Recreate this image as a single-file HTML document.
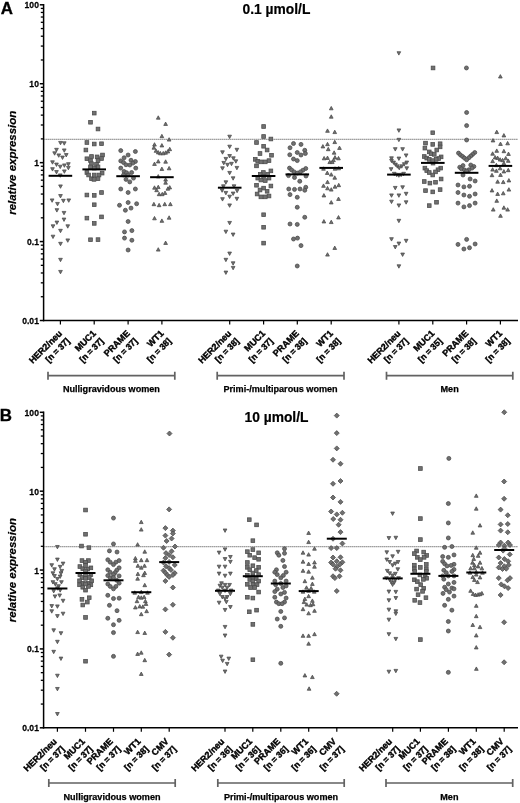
<!DOCTYPE html>
<html><head><meta charset="utf-8"><title>Figure</title>
<style>
html,body{margin:0;padding:0;background:#fff;}
svg{display:block;font-family:"Liberation Sans",sans-serif;will-change:transform;}
</style></head><body>
<svg width="520" height="803" viewBox="0 0 520 803">
<rect width="520" height="803" fill="#fff"/>
<g stroke="#000" stroke-width="1.5" fill="none">
<path d="M43.6 4.05V321.25"/>
<path d="M42.9 320.50H518"/>
<path d="M39.8 4.80H43.6"/>
<path d="M39.8 83.72H43.6"/>
<path d="M39.8 162.65H43.6"/>
<path d="M39.8 241.57H43.6"/>
<path d="M39.8 320.50H43.6"/>
</g>
<g stroke="#000" stroke-width="1.3" fill="none">
<path d="M40.8 59.97H43.6"/>
<path d="M40.8 46.07H43.6"/>
<path d="M40.8 36.21H43.6"/>
<path d="M40.8 28.56H43.6"/>
<path d="M40.8 22.31H43.6"/>
<path d="M40.8 17.03H43.6"/>
<path d="M40.8 12.45H43.6"/>
<path d="M40.8 8.41H43.6"/>
<path d="M40.8 138.89H43.6"/>
<path d="M40.8 124.99H43.6"/>
<path d="M40.8 115.13H43.6"/>
<path d="M40.8 107.48H43.6"/>
<path d="M40.8 101.23H43.6"/>
<path d="M40.8 95.95H43.6"/>
<path d="M40.8 91.37H43.6"/>
<path d="M40.8 87.34H43.6"/>
<path d="M40.8 217.82H43.6"/>
<path d="M40.8 203.92H43.6"/>
<path d="M40.8 194.06H43.6"/>
<path d="M40.8 186.41H43.6"/>
<path d="M40.8 180.16H43.6"/>
<path d="M40.8 174.88H43.6"/>
<path d="M40.8 170.30H43.6"/>
<path d="M40.8 166.26H43.6"/>
<path d="M40.8 296.74H43.6"/>
<path d="M40.8 282.84H43.6"/>
<path d="M40.8 272.98H43.6"/>
<path d="M40.8 265.33H43.6"/>
<path d="M40.8 259.08H43.6"/>
<path d="M40.8 253.80H43.6"/>
<path d="M40.8 249.22H43.6"/>
<path d="M40.8 245.19H43.6"/>
</g>
<g stroke="#000" stroke-width="1.2" fill="none">
<path d="M60.4 320.50v4"/>
<path d="M94.2 320.50v4"/>
<path d="M128.1 320.50v4"/>
<path d="M161.9 320.50v4"/>
<path d="M229.7 320.50v4"/>
<path d="M263.6 320.50v4"/>
<path d="M297.3 320.50v4"/>
<path d="M331.2 320.50v4"/>
<path d="M398.9 320.50v4"/>
<path d="M432.8 320.50v4"/>
<path d="M466.6 320.50v4"/>
<path d="M500.4 320.50v4"/>
</g>
<g font-size="9.8" font-weight="bold" text-anchor="end" fill="#000" stroke="#000" stroke-width="0.25">
<text transform="translate(38.9 8.25) scale(0.875 1)">100</text>
<text transform="translate(38.9 87.17) scale(0.875 1)">10</text>
<text transform="translate(38.9 166.10) scale(0.875 1)">1</text>
<text transform="translate(38.9 245.02) scale(0.875 1)">0.1</text>
<text transform="translate(38.9 323.95) scale(0.875 1)">0.01</text>
</g>
<path d="M44.2 139.29H518" stroke="#686868" stroke-width="1" stroke-dasharray="1.3 0.7" fill="none"/>
<g fill="#707070" stroke="#4a4a4a" stroke-width="0.75" stroke-linejoin="miter">
<path d="M58.65 141.42H62.35L60.50 144.82Z"/>
<path d="M62.40 141.80H66.10L64.25 145.20Z"/>
<path d="M54.65 148.30H58.35L56.50 151.70Z"/>
<path d="M62.40 148.92H66.10L64.25 152.32Z"/>
<path d="M52.77 151.80H56.47L54.62 155.20Z"/>
<path d="M56.90 153.92H60.60L58.75 157.32Z"/>
<path d="M64.40 153.55H68.10L66.25 156.95Z"/>
<path d="M60.65 156.05H64.35L62.50 159.45Z"/>
<path d="M50.65 160.80H54.35L52.50 164.20Z"/>
<path d="M54.65 163.05H58.35L56.50 166.45Z"/>
<path d="M66.53 162.68H70.23L68.38 166.08Z"/>
<path d="M58.40 165.18H62.10L60.25 168.58Z"/>
<path d="M62.53 163.92H66.23L64.38 167.32Z"/>
<path d="M66.53 166.42H70.23L68.38 169.82Z"/>
<path d="M50.65 167.68H54.35L52.50 171.08Z"/>
<path d="M54.65 170.55H58.35L56.50 173.95Z"/>
<path d="M62.53 169.92H66.23L64.38 173.32Z"/>
<path d="M58.40 173.92H62.10L60.25 177.32Z"/>
<path d="M58.65 184.92H62.35L60.50 188.32Z"/>
<path d="M58.65 194.55H62.35L60.50 197.95Z"/>
<path d="M50.27 198.92H53.97L52.12 202.32Z"/>
<path d="M61.53 199.30H65.23L63.38 202.70Z"/>
<path d="M66.90 198.92H70.60L68.75 202.32Z"/>
<path d="M55.65 202.42H59.35L57.50 205.82Z"/>
<path d="M55.03 208.68H58.73L56.88 212.08Z"/>
<path d="M62.15 211.42H65.85L64.00 214.82Z"/>
<path d="M62.15 218.05H65.85L64.00 221.45Z"/>
<path d="M55.03 221.05H58.73L56.88 224.45Z"/>
<path d="M51.15 224.80H54.85L53.00 228.20Z"/>
<path d="M65.90 224.80H69.60L67.75 228.20Z"/>
<path d="M58.65 229.30H62.35L60.50 232.70Z"/>
<path d="M51.15 235.18H54.85L53.00 238.58Z"/>
<path d="M65.90 238.92H69.60L67.75 242.32Z"/>
<path d="M58.65 242.30H62.35L60.50 245.70Z"/>
<path d="M58.65 258.30H62.35L60.50 261.70Z"/>
<path d="M58.65 270.42H62.35L60.50 273.82Z"/>
<rect x="92.40" y="111.27" width="3.7" height="3.7"/>
<rect x="88.65" y="120.40" width="3.7" height="3.7"/>
<rect x="96.15" y="127.15" width="3.7" height="3.7"/>
<rect x="85.03" y="140.65" width="3.7" height="3.7"/>
<rect x="92.40" y="142.15" width="3.7" height="3.7"/>
<rect x="99.65" y="141.90" width="3.7" height="3.7"/>
<rect x="84.03" y="148.15" width="3.7" height="3.7"/>
<rect x="89.65" y="154.65" width="3.7" height="3.7"/>
<rect x="100.65" y="153.15" width="3.7" height="3.7"/>
<rect x="95.27" y="155.03" width="3.7" height="3.7"/>
<rect x="85.03" y="156.90" width="3.7" height="3.7"/>
<rect x="99.65" y="156.65" width="3.7" height="3.7"/>
<rect x="88.65" y="158.77" width="3.7" height="3.7"/>
<rect x="96.15" y="158.77" width="3.7" height="3.7"/>
<rect x="89.65" y="161.90" width="3.7" height="3.7"/>
<rect x="94.65" y="162.53" width="3.7" height="3.7"/>
<rect x="88.65" y="165.03" width="3.7" height="3.7"/>
<rect x="96.15" y="165.03" width="3.7" height="3.7"/>
<rect x="92.40" y="166.27" width="3.7" height="3.7"/>
<rect x="85.03" y="170.65" width="3.7" height="3.7"/>
<rect x="100.27" y="171.27" width="3.7" height="3.7"/>
<rect x="86.77" y="173.15" width="3.7" height="3.7"/>
<rect x="97.15" y="173.15" width="3.7" height="3.7"/>
<rect x="89.65" y="176.90" width="3.7" height="3.7"/>
<rect x="96.15" y="176.90" width="3.7" height="3.7"/>
<rect x="92.15" y="177.53" width="3.7" height="3.7"/>
<rect x="92.40" y="173.15" width="3.7" height="3.7"/>
<rect x="85.03" y="193.15" width="3.7" height="3.7"/>
<rect x="92.40" y="193.53" width="3.7" height="3.7"/>
<rect x="99.65" y="190.65" width="3.7" height="3.7"/>
<rect x="92.40" y="202.90" width="3.7" height="3.7"/>
<rect x="85.03" y="216.27" width="3.7" height="3.7"/>
<rect x="99.65" y="215.03" width="3.7" height="3.7"/>
<rect x="92.40" y="221.53" width="3.7" height="3.7"/>
<rect x="88.65" y="237.90" width="3.7" height="3.7"/>
<rect x="96.15" y="237.77" width="3.7" height="3.7"/>
<circle cx="120.75" cy="150.62" r="2.0"/>
<circle cx="135.38" cy="151.5" r="2.0"/>
<circle cx="128.12" cy="155.0" r="2.0"/>
<circle cx="124.12" cy="157.75" r="2.0"/>
<circle cx="120.75" cy="160.88" r="2.0"/>
<circle cx="131.0" cy="160.25" r="2.0"/>
<circle cx="135.38" cy="161.5" r="2.0"/>
<circle cx="123.5" cy="162.5" r="2.0"/>
<circle cx="132.88" cy="163.12" r="2.0"/>
<circle cx="126.0" cy="164.75" r="2.0"/>
<circle cx="129.75" cy="165.0" r="2.0"/>
<circle cx="120.75" cy="168.12" r="2.0"/>
<circle cx="135.75" cy="168.12" r="2.0"/>
<circle cx="124.12" cy="171.5" r="2.0"/>
<circle cx="126.62" cy="172.75" r="2.0"/>
<circle cx="131.62" cy="172.5" r="2.0"/>
<circle cx="123.5" cy="175.0" r="2.0"/>
<circle cx="133.5" cy="178.12" r="2.0"/>
<circle cx="126.0" cy="179.38" r="2.0"/>
<circle cx="129.75" cy="181.88" r="2.0"/>
<circle cx="120.75" cy="189.0" r="2.0"/>
<circle cx="135.38" cy="189.0" r="2.0"/>
<circle cx="128.12" cy="192.5" r="2.0"/>
<circle cx="128.12" cy="175.0" r="2.0"/>
<circle cx="128.12" cy="202.5" r="2.0"/>
<circle cx="119.5" cy="205.25" r="2.0"/>
<circle cx="136.62" cy="203.75" r="2.0"/>
<circle cx="131.0" cy="208.12" r="2.0"/>
<circle cx="125.38" cy="210.25" r="2.0"/>
<circle cx="128.12" cy="221.5" r="2.0"/>
<circle cx="124.5" cy="231.88" r="2.0"/>
<circle cx="131.88" cy="230.62" r="2.0"/>
<circle cx="124.5" cy="238.12" r="2.0"/>
<circle cx="131.88" cy="240.25" r="2.0"/>
<circle cx="128.12" cy="250.0" r="2.0"/>
<path d="M156.40 119.20H160.10L158.25 115.80Z"/>
<path d="M163.77 125.45H167.47L165.62 122.05Z"/>
<path d="M160.03 137.70H163.73L161.88 134.30Z"/>
<path d="M167.27 141.08H170.97L169.12 137.68Z"/>
<path d="M152.65 146.08H156.35L154.50 142.68Z"/>
<path d="M160.03 146.95H163.73L161.88 143.55Z"/>
<path d="M152.03 149.20H155.73L153.88 145.80Z"/>
<path d="M167.90 150.70H171.60L169.75 147.30Z"/>
<path d="M154.15 152.32H157.85L156.00 148.92Z"/>
<path d="M166.03 152.95H169.73L167.88 149.55Z"/>
<path d="M156.40 153.95H160.10L158.25 150.55Z"/>
<path d="M163.77 154.20H167.47L165.62 150.80Z"/>
<path d="M158.53 154.82H162.23L160.38 151.42Z"/>
<path d="M161.40 154.82H165.10L163.25 151.42Z"/>
<path d="M156.40 162.95H160.10L158.25 159.55Z"/>
<path d="M163.77 163.20H167.47L165.62 159.80Z"/>
<path d="M152.65 165.45H156.35L154.50 162.05Z"/>
<path d="M160.03 170.45H163.73L161.88 167.05Z"/>
<path d="M167.27 169.82H170.97L169.12 166.42Z"/>
<path d="M156.40 177.95H160.10L158.25 174.55Z"/>
<path d="M163.77 181.08H167.47L165.62 177.68Z"/>
<path d="M163.77 184.20H167.47L165.62 180.80Z"/>
<path d="M152.65 189.20H156.35L154.50 185.80Z"/>
<path d="M156.40 188.58H160.10L158.25 185.18Z"/>
<path d="M167.90 188.95H171.60L169.75 185.55Z"/>
<path d="M166.03 190.20H169.73L167.88 186.80Z"/>
<path d="M154.77 191.70H158.47L156.62 188.30Z"/>
<path d="M163.15 194.45H166.85L165.00 191.05Z"/>
<path d="M157.27 195.70H160.97L159.12 192.30Z"/>
<path d="M160.40 195.70H164.10L162.25 192.30Z"/>
<path d="M152.03 205.70H155.73L153.88 202.30Z"/>
<path d="M157.27 206.70H160.97L159.12 203.30Z"/>
<path d="M162.90 205.70H166.60L164.75 202.30Z"/>
<path d="M168.53 205.70H172.23L170.38 202.30Z"/>
<path d="M152.65 219.82H156.35L154.50 216.42Z"/>
<path d="M167.27 219.20H170.97L169.12 215.80Z"/>
<path d="M160.03 222.32H163.73L161.88 218.92Z"/>
<path d="M163.77 244.45H167.47L165.62 241.05Z"/>
<path d="M156.40 251.08H160.10L158.25 247.68Z"/>
<path d="M227.77 135.18H231.47L229.62 138.58Z"/>
<path d="M227.77 145.18H231.47L229.62 148.58Z"/>
<path d="M235.03 148.30H238.73L236.88 151.70Z"/>
<path d="M220.65 150.80H224.35L222.50 154.20Z"/>
<path d="M227.77 154.55H231.47L229.62 157.95Z"/>
<path d="M224.03 157.42H227.73L225.88 160.82Z"/>
<path d="M231.53 156.80H235.23L233.38 160.20Z"/>
<path d="M234.03 159.80H237.73L235.88 163.20Z"/>
<path d="M221.90 161.42H225.60L223.75 164.82Z"/>
<path d="M225.65 163.30H229.35L227.50 166.70Z"/>
<path d="M229.65 162.30H233.35L231.50 165.70Z"/>
<path d="M220.65 166.80H224.35L222.50 170.20Z"/>
<path d="M235.03 166.42H238.73L236.88 169.82Z"/>
<path d="M227.77 171.42H231.47L229.62 174.82Z"/>
<path d="M231.27 176.80H234.97L233.12 180.20Z"/>
<path d="M224.03 180.80H227.73L225.88 184.20Z"/>
<path d="M221.53 184.80H225.23L223.38 188.20Z"/>
<path d="M232.15 184.80H235.85L234.00 188.20Z"/>
<path d="M220.27 188.92H223.97L222.12 192.32Z"/>
<path d="M235.27 189.30H238.97L237.12 192.70Z"/>
<path d="M224.03 191.42H227.73L225.88 194.82Z"/>
<path d="M231.27 192.05H234.97L233.12 195.45Z"/>
<path d="M227.77 195.18H231.47L229.62 198.58Z"/>
<path d="M220.65 197.68H224.35L222.50 201.08Z"/>
<path d="M235.03 197.30H238.73L236.88 200.70Z"/>
<path d="M227.77 203.92H231.47L229.62 207.32Z"/>
<path d="M227.77 221.42H231.47L229.62 224.82Z"/>
<path d="M224.03 230.18H227.73L225.88 233.58Z"/>
<path d="M231.27 233.05H234.97L233.12 236.45Z"/>
<path d="M227.77 252.05H231.47L229.62 255.45Z"/>
<path d="M224.03 258.30H227.73L225.88 261.70Z"/>
<path d="M231.27 261.80H234.97L233.12 265.20Z"/>
<path d="M231.27 266.42H234.97L233.12 269.82Z"/>
<path d="M224.03 271.05H227.73L225.88 274.45Z"/>
<rect x="261.77" y="124.65" width="3.7" height="3.7"/>
<rect x="261.77" y="134.65" width="3.7" height="3.7"/>
<rect x="269.03" y="137.15" width="3.7" height="3.7"/>
<rect x="254.65" y="140.65" width="3.7" height="3.7"/>
<rect x="261.77" y="144.40" width="3.7" height="3.7"/>
<rect x="265.27" y="148.15" width="3.7" height="3.7"/>
<rect x="258.15" y="151.65" width="3.7" height="3.7"/>
<rect x="269.65" y="153.40" width="3.7" height="3.7"/>
<rect x="253.40" y="157.53" width="3.7" height="3.7"/>
<rect x="255.90" y="159.40" width="3.7" height="3.7"/>
<rect x="267.15" y="158.77" width="3.7" height="3.7"/>
<rect x="259.03" y="160.03" width="3.7" height="3.7"/>
<rect x="263.40" y="160.03" width="3.7" height="3.7"/>
<rect x="254.65" y="164.03" width="3.7" height="3.7"/>
<rect x="269.03" y="169.03" width="3.7" height="3.7"/>
<rect x="261.53" y="170.65" width="3.7" height="3.7"/>
<rect x="258.40" y="172.53" width="3.7" height="3.7"/>
<rect x="255.90" y="176.27" width="3.7" height="3.7"/>
<rect x="267.15" y="176.27" width="3.7" height="3.7"/>
<rect x="259.03" y="178.15" width="3.7" height="3.7"/>
<rect x="263.40" y="178.77" width="3.7" height="3.7"/>
<rect x="254.65" y="183.40" width="3.7" height="3.7"/>
<rect x="269.03" y="184.15" width="3.7" height="3.7"/>
<rect x="261.77" y="186.27" width="3.7" height="3.7"/>
<rect x="258.15" y="188.15" width="3.7" height="3.7"/>
<rect x="265.27" y="189.40" width="3.7" height="3.7"/>
<rect x="255.27" y="192.15" width="3.7" height="3.7"/>
<rect x="267.15" y="194.15" width="3.7" height="3.7"/>
<rect x="259.03" y="195.03" width="3.7" height="3.7"/>
<rect x="263.40" y="195.03" width="3.7" height="3.7"/>
<rect x="265.90" y="172.53" width="3.7" height="3.7"/>
<rect x="261.77" y="174.40" width="3.7" height="3.7"/>
<rect x="261.77" y="212.90" width="3.7" height="3.7"/>
<rect x="261.77" y="225.40" width="3.7" height="3.7"/>
<rect x="261.77" y="241.27" width="3.7" height="3.7"/>
<circle cx="293.5" cy="143.5" r="2.0"/>
<circle cx="301.0" cy="144.38" r="2.0"/>
<circle cx="290.0" cy="147.75" r="2.0"/>
<circle cx="304.75" cy="150.25" r="2.0"/>
<circle cx="297.25" cy="152.5" r="2.0"/>
<circle cx="305.38" cy="153.5" r="2.0"/>
<circle cx="289.75" cy="154.75" r="2.0"/>
<circle cx="301.0" cy="155.0" r="2.0"/>
<circle cx="293.5" cy="159.0" r="2.0"/>
<circle cx="297.25" cy="160.62" r="2.0"/>
<circle cx="289.5" cy="168.12" r="2.0"/>
<circle cx="305.75" cy="168.5" r="2.0"/>
<circle cx="291.62" cy="170.0" r="2.0"/>
<circle cx="302.88" cy="170.25" r="2.0"/>
<circle cx="294.12" cy="171.88" r="2.0"/>
<circle cx="300.38" cy="171.88" r="2.0"/>
<circle cx="297.25" cy="173.12" r="2.0"/>
<circle cx="288.5" cy="175.62" r="2.0"/>
<circle cx="306.0" cy="176.0" r="2.0"/>
<circle cx="294.5" cy="177.5" r="2.0"/>
<circle cx="299.75" cy="181.25" r="2.0"/>
<circle cx="305.75" cy="187.25" r="2.0"/>
<circle cx="288.75" cy="189.0" r="2.0"/>
<circle cx="294.5" cy="189.38" r="2.0"/>
<circle cx="300.0" cy="189.0" r="2.0"/>
<circle cx="304.75" cy="190.25" r="2.0"/>
<circle cx="290.0" cy="194.62" r="2.0"/>
<circle cx="297.25" cy="197.25" r="2.0"/>
<circle cx="297.25" cy="207.25" r="2.0"/>
<circle cx="304.75" cy="217.25" r="2.0"/>
<circle cx="290.0" cy="224.0" r="2.0"/>
<circle cx="297.25" cy="224.38" r="2.0"/>
<circle cx="293.5" cy="239.0" r="2.0"/>
<circle cx="297.5" cy="238.12" r="2.0"/>
<circle cx="301.0" cy="245.62" r="2.0"/>
<circle cx="297.25" cy="266.0" r="2.0"/>
<path d="M329.40 109.82H333.10L331.25 106.42Z"/>
<path d="M329.40 118.20H333.10L331.25 114.80Z"/>
<path d="M325.65 132.32H329.35L327.50 128.92Z"/>
<path d="M332.90 133.58H336.60L334.75 130.18Z"/>
<path d="M332.90 143.58H336.60L334.75 140.18Z"/>
<path d="M325.65 145.70H329.35L327.50 142.30Z"/>
<path d="M321.03 147.95H324.73L322.88 144.55Z"/>
<path d="M337.65 149.45H341.35L339.50 146.05Z"/>
<path d="M326.40 150.70H330.10L328.25 147.30Z"/>
<path d="M332.27 154.20H335.97L334.12 150.80Z"/>
<path d="M322.27 159.82H325.97L324.12 156.42Z"/>
<path d="M325.65 159.45H329.35L327.50 156.05Z"/>
<path d="M333.15 158.95H336.85L335.00 155.55Z"/>
<path d="M336.65 159.82H340.35L338.50 156.42Z"/>
<path d="M331.65 161.70H335.35L333.50 158.30Z"/>
<path d="M327.90 163.58H331.60L329.75 160.18Z"/>
<path d="M330.40 163.58H334.10L332.25 160.18Z"/>
<path d="M321.65 170.20H325.35L323.50 166.80Z"/>
<path d="M333.15 170.20H336.85L335.00 166.80Z"/>
<path d="M336.90 169.82H340.60L338.75 166.42Z"/>
<path d="M325.40 174.45H329.10L327.25 171.05Z"/>
<path d="M329.40 176.08H333.10L331.25 172.68Z"/>
<path d="M332.90 179.20H336.60L334.75 175.80Z"/>
<path d="M325.65 183.58H329.35L327.50 180.18Z"/>
<path d="M321.65 187.32H325.35L323.50 183.92Z"/>
<path d="M336.90 186.70H340.60L338.75 183.30Z"/>
<path d="M333.15 188.20H336.85L335.00 184.80Z"/>
<path d="M325.65 189.82H329.35L327.50 186.42Z"/>
<path d="M329.40 191.08H333.10L331.25 187.68Z"/>
<path d="M322.03 196.95H325.73L323.88 193.55Z"/>
<path d="M336.65 200.45H340.35L338.50 197.05Z"/>
<path d="M329.40 203.95H333.10L331.25 200.55Z"/>
<path d="M336.65 218.95H340.35L338.50 215.55Z"/>
<path d="M322.03 222.95H325.73L323.88 219.55Z"/>
<path d="M329.40 223.58H333.10L331.25 220.18Z"/>
<path d="M332.90 249.45H336.60L334.75 246.05Z"/>
<path d="M325.65 256.08H329.35L327.50 252.68Z"/>
<path d="M397.03 128.92H400.73L398.88 132.32Z"/>
<path d="M397.03 138.30H400.73L398.88 141.70Z"/>
<path d="M393.40 147.68H397.10L395.25 151.08Z"/>
<path d="M400.77 147.68H404.47L402.62 151.08Z"/>
<path d="M404.27 153.92H407.97L406.12 157.32Z"/>
<path d="M389.65 156.80H393.35L391.50 160.20Z"/>
<path d="M397.03 157.05H400.73L398.88 160.45Z"/>
<path d="M389.65 159.30H393.35L391.50 162.70Z"/>
<path d="M391.77 161.05H395.47L393.62 164.45Z"/>
<path d="M404.90 161.05H408.60L406.75 164.45Z"/>
<path d="M393.65 163.05H397.35L395.50 166.45Z"/>
<path d="M402.40 162.68H406.10L404.25 166.08Z"/>
<path d="M395.53 164.80H399.23L397.38 168.20Z"/>
<path d="M399.90 164.80H403.60L401.75 168.20Z"/>
<path d="M397.40 166.42H401.10L399.25 169.82Z"/>
<path d="M389.27 167.68H392.97L391.12 171.08Z"/>
<path d="M404.90 166.80H408.60L406.75 170.20Z"/>
<path d="M392.40 172.30H396.10L394.25 175.70Z"/>
<path d="M394.90 173.30H398.60L396.75 176.70Z"/>
<path d="M397.03 173.92H400.73L398.88 177.32Z"/>
<path d="M399.27 173.30H402.97L401.12 176.70Z"/>
<path d="M401.77 172.30H405.47L403.62 175.70Z"/>
<path d="M393.40 186.42H397.10L395.25 189.82Z"/>
<path d="M400.77 185.80H404.47L402.62 189.20Z"/>
<path d="M404.27 192.30H407.97L406.12 195.70Z"/>
<path d="M389.65 193.92H393.35L391.50 197.32Z"/>
<path d="M397.03 193.92H400.73L398.88 197.32Z"/>
<path d="M389.65 200.18H393.35L391.50 203.58Z"/>
<path d="M404.27 200.80H407.97L406.12 204.20Z"/>
<path d="M397.03 203.92H400.73L398.88 207.32Z"/>
<path d="M397.03 219.30H400.73L398.88 222.70Z"/>
<path d="M389.65 237.68H393.35L391.50 241.08Z"/>
<path d="M404.27 239.30H407.97L406.12 242.70Z"/>
<path d="M397.03 242.05H400.73L398.88 245.45Z"/>
<path d="M393.40 245.55H397.10L395.25 248.95Z"/>
<path d="M400.77 253.05H404.47L402.62 256.45Z"/>
<path d="M397.03 264.80H400.73L398.88 268.20Z"/>
<path d="M397.00 51.72H400.70L398.85 55.12Z"/>
<rect x="430.90" y="130.90" width="3.7" height="3.7"/>
<rect x="423.65" y="141.27" width="3.7" height="3.7"/>
<rect x="430.90" y="142.53" width="3.7" height="3.7"/>
<rect x="438.27" y="141.90" width="3.7" height="3.7"/>
<rect x="423.03" y="146.27" width="3.7" height="3.7"/>
<rect x="438.27" y="145.03" width="3.7" height="3.7"/>
<rect x="434.90" y="148.15" width="3.7" height="3.7"/>
<rect x="427.40" y="150.03" width="3.7" height="3.7"/>
<rect x="429.27" y="151.90" width="3.7" height="3.7"/>
<rect x="432.40" y="152.53" width="3.7" height="3.7"/>
<rect x="422.40" y="154.65" width="3.7" height="3.7"/>
<rect x="439.27" y="155.03" width="3.7" height="3.7"/>
<rect x="424.90" y="156.27" width="3.7" height="3.7"/>
<rect x="436.77" y="156.65" width="3.7" height="3.7"/>
<rect x="427.40" y="157.53" width="3.7" height="3.7"/>
<rect x="434.27" y="157.53" width="3.7" height="3.7"/>
<rect x="431.15" y="161.27" width="3.7" height="3.7"/>
<rect x="423.03" y="166.27" width="3.7" height="3.7"/>
<rect x="438.90" y="166.27" width="3.7" height="3.7"/>
<rect x="424.90" y="168.77" width="3.7" height="3.7"/>
<rect x="436.15" y="167.90" width="3.7" height="3.7"/>
<rect x="427.40" y="170.65" width="3.7" height="3.7"/>
<rect x="433.65" y="170.03" width="3.7" height="3.7"/>
<rect x="430.90" y="173.15" width="3.7" height="3.7"/>
<rect x="439.27" y="177.15" width="3.7" height="3.7"/>
<rect x="422.40" y="179.65" width="3.7" height="3.7"/>
<rect x="433.65" y="180.40" width="3.7" height="3.7"/>
<rect x="428.03" y="181.27" width="3.7" height="3.7"/>
<rect x="423.65" y="188.77" width="3.7" height="3.7"/>
<rect x="438.27" y="187.77" width="3.7" height="3.7"/>
<rect x="430.90" y="190.03" width="3.7" height="3.7"/>
<rect x="434.65" y="200.40" width="3.7" height="3.7"/>
<rect x="427.40" y="203.77" width="3.7" height="3.7"/>
<rect x="430.90" y="158.77" width="3.7" height="3.7"/>
<rect x="431.19" y="66.11" width="3.7" height="3.7"/>
<circle cx="466.62" cy="112.5" r="2.0"/>
<circle cx="466.62" cy="125.62" r="2.0"/>
<circle cx="466.62" cy="140.0" r="2.0"/>
<circle cx="458.5" cy="153.12" r="2.0"/>
<circle cx="474.75" cy="152.5" r="2.0"/>
<circle cx="460.5" cy="155.0" r="2.0"/>
<circle cx="472.62" cy="154.38" r="2.0"/>
<circle cx="462.62" cy="156.5" r="2.0"/>
<circle cx="470.75" cy="156.0" r="2.0"/>
<circle cx="464.5" cy="158.12" r="2.0"/>
<circle cx="468.88" cy="157.75" r="2.0"/>
<circle cx="466.62" cy="159.75" r="2.0"/>
<circle cx="463.0" cy="165.62" r="2.0"/>
<circle cx="470.75" cy="165.0" r="2.0"/>
<circle cx="459.75" cy="167.25" r="2.0"/>
<circle cx="473.88" cy="166.5" r="2.0"/>
<circle cx="461.38" cy="168.75" r="2.0"/>
<circle cx="472.0" cy="168.12" r="2.0"/>
<circle cx="464.5" cy="170.0" r="2.0"/>
<circle cx="468.88" cy="169.75" r="2.0"/>
<circle cx="466.62" cy="171.0" r="2.0"/>
<circle cx="463.0" cy="175.0" r="2.0"/>
<circle cx="470.12" cy="179.0" r="2.0"/>
<circle cx="475.12" cy="181.0" r="2.0"/>
<circle cx="458.0" cy="185.0" r="2.0"/>
<circle cx="463.88" cy="186.88" r="2.0"/>
<circle cx="469.5" cy="186.25" r="2.0"/>
<circle cx="458.0" cy="192.5" r="2.0"/>
<circle cx="463.88" cy="195.0" r="2.0"/>
<circle cx="475.12" cy="194.0" r="2.0"/>
<circle cx="469.5" cy="196.25" r="2.0"/>
<circle cx="458.0" cy="203.12" r="2.0"/>
<circle cx="475.12" cy="203.12" r="2.0"/>
<circle cx="469.5" cy="205.62" r="2.0"/>
<circle cx="463.88" cy="206.88" r="2.0"/>
<circle cx="466.62" cy="239.38" r="2.0"/>
<circle cx="458.0" cy="244.38" r="2.0"/>
<circle cx="475.12" cy="244.0" r="2.0"/>
<circle cx="469.5" cy="247.75" r="2.0"/>
<circle cx="463.88" cy="249.0" r="2.0"/>
<circle cx="466.43" cy="67.96" r="2.0"/>
<path d="M494.90 133.58H498.60L496.75 130.18Z"/>
<path d="M502.03 136.95H505.73L503.88 133.55Z"/>
<path d="M491.15 141.95H494.85L493.00 138.55Z"/>
<path d="M498.65 145.45H502.35L500.50 142.05Z"/>
<path d="M505.77 144.82H509.47L507.62 141.42Z"/>
<path d="M494.90 152.32H498.60L496.75 148.92Z"/>
<path d="M502.03 152.70H505.73L503.88 149.30Z"/>
<path d="M490.77 155.20H494.47L492.62 151.80Z"/>
<path d="M506.65 155.45H510.35L508.50 152.05Z"/>
<path d="M493.27 158.95H496.97L495.12 155.55Z"/>
<path d="M495.77 159.45H499.47L497.62 156.05Z"/>
<path d="M498.27 161.08H501.97L500.12 157.68Z"/>
<path d="M500.77 161.70H504.47L502.62 158.30Z"/>
<path d="M503.90 159.82H507.60L505.75 156.42Z"/>
<path d="M490.77 162.70H494.47L492.62 159.30Z"/>
<path d="M506.40 162.32H510.10L508.25 158.92Z"/>
<path d="M502.03 164.82H505.73L503.88 161.42Z"/>
<path d="M494.53 166.70H498.23L496.38 163.30Z"/>
<path d="M490.77 171.08H494.47L492.62 167.68Z"/>
<path d="M494.53 172.32H498.23L496.38 168.92Z"/>
<path d="M498.27 169.82H501.97L500.12 166.42Z"/>
<path d="M502.03 172.95H505.73L503.88 169.55Z"/>
<path d="M506.40 171.70H510.10L508.25 168.30Z"/>
<path d="M490.15 176.70H493.85L492.00 173.30Z"/>
<path d="M498.65 176.45H502.35L500.50 173.05Z"/>
<path d="M495.77 183.20H499.47L497.62 179.80Z"/>
<path d="M501.40 183.58H505.10L503.25 180.18Z"/>
<path d="M507.03 181.95H510.73L508.88 178.55Z"/>
<path d="M490.15 191.95H493.85L492.00 188.55Z"/>
<path d="M507.03 191.08H510.73L508.88 187.68Z"/>
<path d="M495.77 195.45H499.47L497.62 192.05Z"/>
<path d="M501.40 194.82H505.10L503.25 191.42Z"/>
<path d="M494.90 202.32H498.60L496.75 198.92Z"/>
<path d="M502.03 209.20H505.73L503.88 205.80Z"/>
<path d="M491.40 211.08H495.10L493.25 207.68Z"/>
<path d="M505.77 211.08H509.47L507.62 207.68Z"/>
<path d="M498.65 217.32H502.35L500.50 213.92Z"/>
<path d="M498.51 78.01H502.21L500.36 74.61Z"/>
</g>
<g stroke="#000" stroke-width="2" fill="none">
<path d="M48.60 175.80h23.6"/>
<path d="M82.40 169.40h23.6"/>
<path d="M116.30 176.20h23.6"/>
<path d="M150.10 177.20h23.6"/>
<path d="M217.90 187.70h23.6"/>
<path d="M251.80 176.00h23.6"/>
<path d="M285.50 174.40h23.6"/>
<path d="M319.40 167.90h23.6"/>
<path d="M387.10 174.60h23.6"/>
<path d="M421.00 162.90h23.6"/>
<path d="M454.80 172.80h23.6"/>
<path d="M488.60 165.90h23.6"/>
</g>
<text transform="translate(0.7 14.20) scale(1.07 1)" font-size="15.8" font-weight="bold" stroke="#000" stroke-width="0.3">A</text>
<text x="276.5" y="14.00" font-size="13.8" font-weight="bold" text-anchor="middle" stroke="#000" stroke-width="0.2">0.1 µmol/L</text>
<text transform="translate(15.9 162.75) rotate(-90)" stroke="#000" stroke-width="0.2" font-size="11.5" font-weight="bold" font-style="italic" text-anchor="middle">relative expression</text>
<g font-size="9" font-weight="bold" text-anchor="end" stroke="#000" stroke-width="0.4">
<g transform="translate(62.70 334.00) rotate(-45)"><text x="0" y="0">HER2/neu</text><text x="0" y="10.8" font-size="8.7" word-spacing="-0.3">[n = 37]</text></g>
<g transform="translate(96.50 334.00) rotate(-45)"><text x="0" y="0">MUC1</text><text x="0" y="10.8" font-size="8.7" word-spacing="-0.3">[n = 37]</text></g>
<g transform="translate(130.40 334.00) rotate(-45)"><text x="0" y="0">PRAME</text><text x="0" y="10.8" font-size="8.7" word-spacing="-0.3">[n = 37]</text></g>
<g transform="translate(164.20 334.00) rotate(-45)"><text x="0" y="0">WT1</text><text x="0" y="10.8" font-size="8.7" word-spacing="-0.3">[n = 38]</text></g>
<g transform="translate(232.00 334.00) rotate(-45)"><text x="0" y="0">HER2/neu</text><text x="0" y="10.8" font-size="8.7" word-spacing="-0.3">[n = 38]</text></g>
<g transform="translate(265.90 334.00) rotate(-45)"><text x="0" y="0">MUC1</text><text x="0" y="10.8" font-size="8.7" word-spacing="-0.3">[n = 37]</text></g>
<g transform="translate(299.60 334.00) rotate(-45)"><text x="0" y="0">PRAME</text><text x="0" y="10.8" font-size="8.7" word-spacing="-0.3">[n = 38]</text></g>
<g transform="translate(333.50 334.00) rotate(-45)"><text x="0" y="0">WT1</text><text x="0" y="10.8" font-size="8.7" word-spacing="-0.3">[n = 38]</text></g>
<g transform="translate(401.20 334.00) rotate(-45)"><text x="0" y="0">HER2/neu</text><text x="0" y="10.8" font-size="8.7" word-spacing="-0.3">[n = 37]</text></g>
<g transform="translate(435.10 334.00) rotate(-45)"><text x="0" y="0">MUC1</text><text x="0" y="10.8" font-size="8.7" word-spacing="-0.3">[n = 35]</text></g>
<g transform="translate(468.90 334.00) rotate(-45)"><text x="0" y="0">PRAME</text><text x="0" y="10.8" font-size="8.7" word-spacing="-0.3">[n = 38]</text></g>
<g transform="translate(502.70 334.00) rotate(-45)"><text x="0" y="0">WT1</text><text x="0" y="10.8" font-size="8.7" word-spacing="-0.3">[n = 38]</text></g>
</g>
<g stroke="#626262" stroke-width="1.7" fill="none">
<path d="M48 371.70v8M174.8 371.70v8M48 375.70H174.8"/>
<path d="M217.2 371.70v8M344 371.70v8M217.2 375.70H344"/>
<path d="M386.5 371.70v8M512.8 371.70v8M386.5 375.70H512.8"/>
</g>
<g font-size="9.1" font-weight="bold" text-anchor="middle" stroke="#000" stroke-width="0.25">
<text x="111.40" y="392.10">Nulligravidous women</text>
<text x="280.60" y="392.10">Primi-/multiparous women</text>
<text x="449.65" y="392.10">Men</text>
</g>
<g stroke="#000" stroke-width="1.5" fill="none">
<path d="M43.6 411.55V728.55"/>
<path d="M42.9 727.80H518"/>
<path d="M39.8 412.30H43.6"/>
<path d="M39.8 491.18H43.6"/>
<path d="M39.8 570.05H43.6"/>
<path d="M39.8 648.92H43.6"/>
<path d="M39.8 727.80H43.6"/>
</g>
<g stroke="#000" stroke-width="1.3" fill="none">
<path d="M40.8 467.43H43.6"/>
<path d="M40.8 453.54H43.6"/>
<path d="M40.8 443.69H43.6"/>
<path d="M40.8 436.04H43.6"/>
<path d="M40.8 429.80H43.6"/>
<path d="M40.8 424.52H43.6"/>
<path d="M40.8 419.94H43.6"/>
<path d="M40.8 415.91H43.6"/>
<path d="M40.8 546.31H43.6"/>
<path d="M40.8 532.42H43.6"/>
<path d="M40.8 522.56H43.6"/>
<path d="M40.8 514.92H43.6"/>
<path d="M40.8 508.67H43.6"/>
<path d="M40.8 503.39H43.6"/>
<path d="M40.8 498.82H43.6"/>
<path d="M40.8 494.78H43.6"/>
<path d="M40.8 625.18H43.6"/>
<path d="M40.8 611.29H43.6"/>
<path d="M40.8 601.44H43.6"/>
<path d="M40.8 593.79H43.6"/>
<path d="M40.8 587.55H43.6"/>
<path d="M40.8 582.27H43.6"/>
<path d="M40.8 577.69H43.6"/>
<path d="M40.8 573.66H43.6"/>
<path d="M40.8 704.06H43.6"/>
<path d="M40.8 690.17H43.6"/>
<path d="M40.8 680.31H43.6"/>
<path d="M40.8 672.67H43.6"/>
<path d="M40.8 666.42H43.6"/>
<path d="M40.8 661.14H43.6"/>
<path d="M40.8 656.57H43.6"/>
<path d="M40.8 652.53H43.6"/>
</g>
<g stroke="#000" stroke-width="1.2" fill="none">
<path d="M57.4 727.80v4"/>
<path d="M85.5 727.80v4"/>
<path d="M113.5 727.80v4"/>
<path d="M141.3 727.80v4"/>
<path d="M169.2 727.80v4"/>
<path d="M225.0 727.80v4"/>
<path d="M252.8 727.80v4"/>
<path d="M280.8 727.80v4"/>
<path d="M308.7 727.80v4"/>
<path d="M336.8 727.80v4"/>
<path d="M392.7 727.80v4"/>
<path d="M420.4 727.80v4"/>
<path d="M448.4 727.80v4"/>
<path d="M476.3 727.80v4"/>
<path d="M504.2 727.80v4"/>
</g>
<g font-size="9.8" font-weight="bold" text-anchor="end" fill="#000" stroke="#000" stroke-width="0.25">
<text transform="translate(38.9 415.75) scale(0.875 1)">100</text>
<text transform="translate(38.9 494.62) scale(0.875 1)">10</text>
<text transform="translate(38.9 573.50) scale(0.875 1)">1</text>
<text transform="translate(38.9 652.38) scale(0.875 1)">0.1</text>
<text transform="translate(38.9 731.25) scale(0.875 1)">0.01</text>
</g>
<path d="M44.2 546.71H518" stroke="#686868" stroke-width="1" stroke-dasharray="1.3 0.7" fill="none"/>
<g fill="#707070" stroke="#4a4a4a" stroke-width="0.75" stroke-linejoin="miter">
<path d="M55.56 545.47H59.26L57.41 548.87Z"/>
<path d="M55.56 558.07H59.26L57.41 561.47Z"/>
<path d="M61.21 562.11H64.91L63.06 565.51Z"/>
<path d="M49.90 563.73H53.60L51.75 567.13Z"/>
<path d="M58.31 565.34H62.01L60.16 568.74Z"/>
<path d="M52.65 567.77H56.35L54.50 571.17Z"/>
<path d="M59.92 569.38H63.62L61.77 572.78Z"/>
<path d="M51.04 571.81H54.74L52.89 575.21Z"/>
<path d="M59.11 571.81H62.81L60.96 575.21Z"/>
<path d="M52.65 574.55H56.35L54.50 577.95Z"/>
<path d="M58.31 575.04H62.01L60.16 578.44Z"/>
<path d="M55.56 577.46H59.26L57.41 580.86Z"/>
<path d="M51.04 580.69H54.74L52.89 584.09Z"/>
<path d="M59.60 580.69H63.30L61.45 584.09Z"/>
<path d="M53.46 582.63H57.16L55.31 586.03Z"/>
<path d="M51.84 589.58H55.54L53.69 592.98Z"/>
<path d="M58.31 588.77H62.01L60.16 592.17Z"/>
<path d="M53.14 594.91H56.84L54.99 598.31Z"/>
<path d="M57.82 593.94H61.52L59.67 597.34Z"/>
<path d="M61.21 599.27H64.91L63.06 602.67Z"/>
<path d="M49.90 604.60H53.60L51.75 608.00Z"/>
<path d="M55.56 604.92H59.26L57.41 608.32Z"/>
<path d="M49.90 609.77H53.60L51.75 613.17Z"/>
<path d="M61.21 612.19H64.91L63.06 615.59Z"/>
<path d="M55.56 614.62H59.26L57.41 618.02Z"/>
<path d="M56.69 584.73H60.39L58.54 588.13Z"/>
<path d="M55.56 586.83H59.26L57.41 590.23Z"/>
<path d="M51.84 628.82H55.54L53.69 632.22Z"/>
<path d="M59.11 631.72H62.81L60.96 635.12Z"/>
<path d="M55.56 640.29H59.26L57.41 643.69Z"/>
<path d="M51.84 650.30H55.54L53.69 653.70Z"/>
<path d="M59.11 657.09H62.81L60.96 660.49Z"/>
<path d="M55.56 674.21H59.26L57.41 677.61Z"/>
<path d="M55.56 687.46H59.26L57.41 690.86Z"/>
<path d="M55.56 712.50H59.26L57.41 715.90Z"/>
<rect x="83.67" y="508.17" width="3.7" height="3.7"/>
<rect x="83.67" y="532.40" width="3.7" height="3.7"/>
<rect x="79.63" y="544.19" width="3.7" height="3.7"/>
<rect x="87.06" y="545.81" width="3.7" height="3.7"/>
<rect x="80.11" y="558.73" width="3.7" height="3.7"/>
<rect x="86.58" y="558.73" width="3.7" height="3.7"/>
<rect x="83.67" y="560.35" width="3.7" height="3.7"/>
<rect x="78.01" y="564.71" width="3.7" height="3.7"/>
<rect x="89.00" y="566.00" width="3.7" height="3.7"/>
<rect x="80.92" y="566.81" width="3.7" height="3.7"/>
<rect x="85.77" y="567.29" width="3.7" height="3.7"/>
<rect x="78.01" y="572.79" width="3.7" height="3.7"/>
<rect x="89.00" y="572.79" width="3.7" height="3.7"/>
<rect x="80.11" y="575.69" width="3.7" height="3.7"/>
<rect x="83.67" y="576.50" width="3.7" height="3.7"/>
<rect x="87.38" y="575.69" width="3.7" height="3.7"/>
<rect x="77.69" y="578.93" width="3.7" height="3.7"/>
<rect x="89.81" y="578.93" width="3.7" height="3.7"/>
<rect x="80.92" y="581.35" width="3.7" height="3.7"/>
<rect x="85.77" y="581.35" width="3.7" height="3.7"/>
<rect x="77.69" y="582.96" width="3.7" height="3.7"/>
<rect x="89.00" y="582.96" width="3.7" height="3.7"/>
<rect x="80.92" y="585.39" width="3.7" height="3.7"/>
<rect x="86.58" y="584.58" width="3.7" height="3.7"/>
<rect x="83.67" y="588.30" width="3.7" height="3.7"/>
<rect x="80.11" y="597.50" width="3.7" height="3.7"/>
<rect x="87.38" y="595.89" width="3.7" height="3.7"/>
<rect x="85.45" y="600.25" width="3.7" height="3.7"/>
<rect x="80.92" y="603.16" width="3.7" height="3.7"/>
<rect x="83.67" y="615.60" width="3.7" height="3.7"/>
<rect x="83.67" y="563.58" width="3.7" height="3.7"/>
<rect x="83.67" y="569.23" width="3.7" height="3.7"/>
<rect x="83.67" y="572.79" width="3.7" height="3.7"/>
<rect x="83.67" y="582.16" width="3.7" height="3.7"/>
<rect x="83.67" y="659.36" width="3.7" height="3.7"/>
<circle cx="113.47" cy="518.09" r="2.0"/>
<circle cx="113.47" cy="543.94" r="2.0"/>
<circle cx="109.43" cy="550.89" r="2.0"/>
<circle cx="117.02" cy="552.02" r="2.0"/>
<circle cx="107.81" cy="559.77" r="2.0"/>
<circle cx="119.12" cy="560.58" r="2.0"/>
<circle cx="110.24" cy="562.2" r="2.0"/>
<circle cx="115.89" cy="562.2" r="2.0"/>
<circle cx="113.47" cy="564.62" r="2.0"/>
<circle cx="119.12" cy="567.85" r="2.0"/>
<circle cx="107.81" cy="569.79" r="2.0"/>
<circle cx="116.7" cy="570.27" r="2.0"/>
<circle cx="110.24" cy="572.37" r="2.0"/>
<circle cx="115.08" cy="572.7" r="2.0"/>
<circle cx="107.81" cy="575.61" r="2.0"/>
<circle cx="113.47" cy="574.64" r="2.0"/>
<circle cx="119.12" cy="575.93" r="2.0"/>
<circle cx="110.24" cy="577.87" r="2.0"/>
<circle cx="107.81" cy="584.01" r="2.0"/>
<circle cx="119.12" cy="583.2" r="2.0"/>
<circle cx="110.24" cy="586.43" r="2.0"/>
<circle cx="115.89" cy="586.43" r="2.0"/>
<circle cx="113.47" cy="588.85" r="2.0"/>
<circle cx="107.81" cy="595.32" r="2.0"/>
<circle cx="113.47" cy="598.55" r="2.0"/>
<circle cx="119.12" cy="598.22" r="2.0"/>
<circle cx="109.43" cy="605.33" r="2.0"/>
<circle cx="117.02" cy="610.66" r="2.0"/>
<circle cx="107.81" cy="618.26" r="2.0"/>
<circle cx="119.12" cy="620.36" r="2.0"/>
<circle cx="113.47" cy="624.72" r="2.0"/>
<circle cx="113.47" cy="577.54" r="2.0"/>
<circle cx="116.7" cy="580.29" r="2.0"/>
<circle cx="113.47" cy="632.62" r="2.0"/>
<circle cx="113.47" cy="656.37" r="2.0"/>
<path d="M139.40 523.58H143.10L141.25 520.18Z"/>
<path d="M139.40 531.08H143.10L141.25 527.68Z"/>
<path d="M135.77 546.08H139.47L137.62 542.68Z"/>
<path d="M142.90 553.20H146.60L144.75 549.80Z"/>
<path d="M133.53 559.82H137.23L135.38 556.42Z"/>
<path d="M133.53 562.32H137.23L135.38 558.92Z"/>
<path d="M139.40 561.70H143.10L141.25 558.30Z"/>
<path d="M145.15 561.70H148.85L147.00 558.30Z"/>
<path d="M136.03 567.32H139.73L137.88 563.92Z"/>
<path d="M142.65 567.32H146.35L144.50 563.92Z"/>
<path d="M139.40 569.20H143.10L141.25 565.80Z"/>
<path d="M136.03 575.45H139.73L137.88 572.05Z"/>
<path d="M142.90 574.45H146.60L144.75 571.05Z"/>
<path d="M141.65 576.70H145.35L143.50 573.30Z"/>
<path d="M135.77 580.20H139.47L137.62 576.80Z"/>
<path d="M142.90 586.70H146.60L144.75 583.30Z"/>
<path d="M136.65 598.58H140.35L138.50 595.18Z"/>
<path d="M139.40 599.20H143.10L141.25 595.80Z"/>
<path d="M142.27 598.58H145.97L144.12 595.18Z"/>
<path d="M135.15 602.70H138.85L137.00 599.30Z"/>
<path d="M143.53 602.70H147.23L145.38 599.30Z"/>
<path d="M144.15 605.45H147.85L146.00 602.05Z"/>
<path d="M133.53 608.95H137.23L135.38 605.55Z"/>
<path d="M137.90 607.95H141.60L139.75 604.55Z"/>
<path d="M141.03 608.20H144.73L142.88 604.80Z"/>
<path d="M144.77 612.70H148.47L146.62 609.30Z"/>
<path d="M139.40 615.70H143.10L141.25 612.30Z"/>
<path d="M135.77 633.58H139.47L137.62 630.18Z"/>
<path d="M142.90 634.45H146.60L144.75 631.05Z"/>
<path d="M135.77 655.45H139.47L137.62 652.05Z"/>
<path d="M139.40 654.20H143.10L141.25 650.80Z"/>
<path d="M142.90 661.70H146.60L144.75 658.30Z"/>
<path d="M139.40 675.45H143.10L141.25 672.05Z"/>
<path d="M132.90 594.20H136.60L134.75 590.80Z"/>
<path d="M145.65 594.20H149.35L147.50 590.80Z"/>
<path d="M139.40 593.58H143.10L141.25 590.18Z"/>
<path d="M166.62 509.38L169.12 506.88L171.62 509.38L169.12 511.88Z"/>
<path d="M162.88 528.12L165.38 525.62L167.88 528.12L165.38 530.62Z"/>
<path d="M170.38 530.62L172.88 528.12L175.38 530.62L172.88 533.12Z"/>
<path d="M170.38 533.5L172.88 531.00L175.38 533.5L172.88 536.00Z"/>
<path d="M162.88 535.62L165.38 533.12L167.88 535.62L165.38 538.12Z"/>
<path d="M169.12 538.5L171.62 536.00L174.12 538.5L171.62 541.00Z"/>
<path d="M164.12 541.0L166.62 538.50L169.12 541.0L166.62 543.50Z"/>
<path d="M161.00 547.75L163.5 545.25L166.00 547.75L163.5 550.25Z"/>
<path d="M172.50 546.5L175.0 544.00L177.50 546.5L175.0 549.00Z"/>
<path d="M169.12 551.25L171.62 548.75L174.12 551.25L171.62 553.75Z"/>
<path d="M163.50 553.12L166.0 550.62L168.50 553.12L166.0 555.62Z"/>
<path d="M166.62 555.0L169.12 552.50L171.62 555.0L169.12 557.50Z"/>
<path d="M170.38 557.25L172.88 554.75L175.38 557.25L172.88 559.75Z"/>
<path d="M162.88 558.12L165.38 555.62L167.88 558.12L165.38 560.62Z"/>
<path d="M166.62 561.88L169.12 559.38L171.62 561.88L169.12 564.38Z"/>
<path d="M172.25 565.0L174.75 562.50L177.25 565.0L174.75 567.50Z"/>
<path d="M166.62 568.12L169.12 565.62L171.62 568.12L169.12 570.62Z"/>
<path d="M161.00 570.62L163.5 568.12L166.00 570.62L163.5 573.12Z"/>
<path d="M168.50 570.0L171.0 567.50L173.50 570.0L171.0 572.50Z"/>
<path d="M162.88 572.75L165.38 570.25L167.88 572.75L165.38 575.25Z"/>
<path d="M172.25 573.12L174.75 570.62L177.25 573.12L174.75 575.62Z"/>
<path d="M164.75 575.0L167.25 572.50L169.75 575.0L167.25 577.50Z"/>
<path d="M170.38 575.0L172.88 572.50L175.38 575.0L172.88 577.50Z"/>
<path d="M166.62 576.88L169.12 574.38L171.62 576.88L169.12 579.38Z"/>
<path d="M162.88 581.0L165.38 578.50L167.88 581.0L165.38 583.50Z"/>
<path d="M170.38 587.5L172.88 585.00L175.38 587.5L172.88 590.00Z"/>
<path d="M161.00 562.5L163.5 560.00L166.00 562.5L163.5 565.00Z"/>
<path d="M163.50 566.25L166.0 563.75L168.50 566.25L166.0 568.75Z"/>
<path d="M170.38 604.75L172.88 602.25L175.38 604.75L172.88 607.25Z"/>
<path d="M162.88 609.38L165.38 606.88L167.88 609.38L165.38 611.88Z"/>
<path d="M162.88 631.88L165.38 629.38L167.88 631.88L165.38 634.38Z"/>
<path d="M170.38 637.75L172.88 635.25L175.38 637.75L172.88 640.25Z"/>
<path d="M166.62 654.62L169.12 652.12L171.62 654.62L169.12 657.12Z"/>
<path d="M166.97 433.53L169.47 431.03L171.97 433.53L169.47 436.03Z"/>
<path d="M223.20 528.98H226.90L225.05 532.38Z"/>
<path d="M223.20 547.88H226.90L225.05 551.28Z"/>
<path d="M217.23 551.11H220.93L219.08 554.51Z"/>
<path d="M228.54 555.47H232.24L230.39 558.87Z"/>
<path d="M223.20 557.57H226.90L225.05 560.97Z"/>
<path d="M228.54 560.32H232.24L230.39 563.72Z"/>
<path d="M217.23 565.17H220.93L219.08 568.57Z"/>
<path d="M223.20 565.17H226.90L225.05 568.57Z"/>
<path d="M217.23 572.11H220.93L219.08 575.51Z"/>
<path d="M228.54 572.11H232.24L230.39 575.51Z"/>
<path d="M223.20 574.21H226.90L225.05 577.61Z"/>
<path d="M219.65 581.81H223.35L221.50 585.21Z"/>
<path d="M218.04 584.23H221.74L219.89 587.63Z"/>
<path d="M223.20 583.42H226.90L225.05 586.82Z"/>
<path d="M227.73 583.42H231.43L229.58 586.82Z"/>
<path d="M220.46 586.17H224.16L222.31 589.57Z"/>
<path d="M225.31 586.17H229.01L227.16 589.57Z"/>
<path d="M218.04 592.31H221.74L219.89 595.71Z"/>
<path d="M228.54 592.31H232.24L230.39 595.71Z"/>
<path d="M220.46 595.54H224.16L222.31 598.94Z"/>
<path d="M225.31 595.54H229.01L227.16 598.94Z"/>
<path d="M223.20 597.15H226.90L225.05 600.55Z"/>
<path d="M217.23 601.19H220.93L219.08 604.59Z"/>
<path d="M224.50 600.38H228.20L226.35 603.78Z"/>
<path d="M228.54 605.55H232.24L230.39 608.95Z"/>
<path d="M223.20 608.46H226.90L225.05 611.86Z"/>
<path d="M223.20 625.42H226.90L225.05 628.82Z"/>
<path d="M223.20 633.99H226.90L225.05 637.39Z"/>
<path d="M223.20 589.08H226.90L225.05 592.48Z"/>
<path d="M216.42 589.08H220.12L218.27 592.48Z"/>
<path d="M229.34 589.08H233.04L231.19 592.48Z"/>
<path d="M219.33 655.15H223.03L221.18 658.55Z"/>
<path d="M220.78 659.19H224.48L222.63 662.59Z"/>
<path d="M226.92 657.09H230.62L228.77 660.49Z"/>
<path d="M225.31 662.42H229.01L227.16 665.82Z"/>
<path d="M223.20 670.01H226.90L225.05 673.41Z"/>
<rect x="247.44" y="517.84" width="3.7" height="3.7"/>
<rect x="254.71" y="523.01" width="3.7" height="3.7"/>
<rect x="250.99" y="538.84" width="3.7" height="3.7"/>
<rect x="250.99" y="547.73" width="3.7" height="3.7"/>
<rect x="245.50" y="549.83" width="3.7" height="3.7"/>
<rect x="256.81" y="550.96" width="3.7" height="3.7"/>
<rect x="247.92" y="553.38" width="3.7" height="3.7"/>
<rect x="252.77" y="555.81" width="3.7" height="3.7"/>
<rect x="256.81" y="557.42" width="3.7" height="3.7"/>
<rect x="245.50" y="560.65" width="3.7" height="3.7"/>
<rect x="250.99" y="563.89" width="3.7" height="3.7"/>
<rect x="245.50" y="565.50" width="3.7" height="3.7"/>
<rect x="256.81" y="565.50" width="3.7" height="3.7"/>
<rect x="247.92" y="567.92" width="3.7" height="3.7"/>
<rect x="254.38" y="568.73" width="3.7" height="3.7"/>
<rect x="250.99" y="571.15" width="3.7" height="3.7"/>
<rect x="247.92" y="577.62" width="3.7" height="3.7"/>
<rect x="254.38" y="576.81" width="3.7" height="3.7"/>
<rect x="250.99" y="579.23" width="3.7" height="3.7"/>
<rect x="256.81" y="579.23" width="3.7" height="3.7"/>
<rect x="245.50" y="582.46" width="3.7" height="3.7"/>
<rect x="250.99" y="582.79" width="3.7" height="3.7"/>
<rect x="255.19" y="582.79" width="3.7" height="3.7"/>
<rect x="248.73" y="585.69" width="3.7" height="3.7"/>
<rect x="252.77" y="585.69" width="3.7" height="3.7"/>
<rect x="256.81" y="590.22" width="3.7" height="3.7"/>
<rect x="245.50" y="595.39" width="3.7" height="3.7"/>
<rect x="250.99" y="596.20" width="3.7" height="3.7"/>
<rect x="254.71" y="608.31" width="3.7" height="3.7"/>
<rect x="247.44" y="609.93" width="3.7" height="3.7"/>
<rect x="250.99" y="622.53" width="3.7" height="3.7"/>
<rect x="245.50" y="573.58" width="3.7" height="3.7"/>
<rect x="256.81" y="572.77" width="3.7" height="3.7"/>
<rect x="250.99" y="575.19" width="3.7" height="3.7"/>
<rect x="250.99" y="657.91" width="3.7" height="3.7"/>
<circle cx="284.51" cy="548.77" r="2.0"/>
<circle cx="277.24" cy="552.81" r="2.0"/>
<circle cx="284.51" cy="553.3" r="2.0"/>
<circle cx="278.85" cy="555.23" r="2.0"/>
<circle cx="282.89" cy="560.4" r="2.0"/>
<circle cx="284.51" cy="566.54" r="2.0"/>
<circle cx="276.43" cy="569.77" r="2.0"/>
<circle cx="274.81" cy="572.2" r="2.0"/>
<circle cx="286.12" cy="572.2" r="2.0"/>
<circle cx="277.24" cy="574.62" r="2.0"/>
<circle cx="283.37" cy="575.43" r="2.0"/>
<circle cx="280.79" cy="577.85" r="2.0"/>
<circle cx="274.81" cy="581.08" r="2.0"/>
<circle cx="277.24" cy="589.16" r="2.0"/>
<circle cx="282.89" cy="587.54" r="2.0"/>
<circle cx="274.81" cy="591.58" r="2.0"/>
<circle cx="284.51" cy="592.39" r="2.0"/>
<circle cx="280.79" cy="594.01" r="2.0"/>
<circle cx="274.81" cy="597.24" r="2.0"/>
<circle cx="286.12" cy="598.05" r="2.0"/>
<circle cx="276.43" cy="602.08" r="2.0"/>
<circle cx="284.51" cy="602.08" r="2.0"/>
<circle cx="278.85" cy="603.7" r="2.0"/>
<circle cx="282.08" cy="603.7" r="2.0"/>
<circle cx="280.79" cy="611.45" r="2.0"/>
<circle cx="277.24" cy="619.05" r="2.0"/>
<circle cx="284.51" cy="617.92" r="2.0"/>
<circle cx="280.79" cy="626.32" r="2.0"/>
<circle cx="286.12" cy="581.08" r="2.0"/>
<circle cx="280.79" cy="583.51" r="2.0"/>
<circle cx="275.62" cy="584.64" r="2.0"/>
<circle cx="286.12" cy="585.93" r="2.0"/>
<circle cx="280.79" cy="663.31" r="2.0"/>
<path d="M306.77 534.45H310.47L308.62 531.05Z"/>
<path d="M306.77 543.58H310.47L308.62 540.18Z"/>
<path d="M312.65 550.20H316.35L314.50 546.80Z"/>
<path d="M301.15 554.20H304.85L303.00 550.80Z"/>
<path d="M306.77 556.08H310.47L308.62 552.68Z"/>
<path d="M301.15 563.20H304.85L303.00 559.80Z"/>
<path d="M312.65 563.95H316.35L314.50 560.55Z"/>
<path d="M306.77 565.45H310.47L308.62 562.05Z"/>
<path d="M312.65 568.20H316.35L314.50 564.80Z"/>
<path d="M301.15 572.32H304.85L303.00 568.92Z"/>
<path d="M306.77 573.20H310.47L308.62 569.80Z"/>
<path d="M310.53 579.20H314.23L312.38 575.80Z"/>
<path d="M303.03 582.70H306.73L304.88 579.30Z"/>
<path d="M310.53 585.45H314.23L312.38 582.05Z"/>
<path d="M304.65 589.20H308.35L306.50 585.80Z"/>
<path d="M309.27 589.82H312.97L311.12 586.42Z"/>
<path d="M301.15 593.20H304.85L303.00 589.80Z"/>
<path d="M312.40 593.20H316.10L314.25 589.80Z"/>
<path d="M306.77 597.70H310.47L308.62 594.30Z"/>
<path d="M303.03 600.45H306.73L304.88 597.05Z"/>
<path d="M310.53 602.32H314.23L312.38 598.92Z"/>
<path d="M302.15 603.58H305.85L304.00 600.18Z"/>
<path d="M304.90 606.08H308.60L306.75 602.68Z"/>
<path d="M308.65 606.70H312.35L310.50 603.30Z"/>
<path d="M311.15 605.70H314.85L313.00 602.30Z"/>
<path d="M301.15 610.70H304.85L303.00 607.30Z"/>
<path d="M312.65 612.32H316.35L314.50 608.92Z"/>
<path d="M306.77 614.82H310.47L308.62 611.42Z"/>
<path d="M301.15 637.32H304.85L303.00 633.92Z"/>
<path d="M306.77 637.32H310.47L308.62 633.92Z"/>
<path d="M312.65 635.70H316.35L314.50 632.30Z"/>
<path d="M306.77 645.20H310.47L308.62 641.80Z"/>
<path d="M303.03 676.95H306.73L304.88 673.55Z"/>
<path d="M310.53 678.58H314.23L312.38 675.18Z"/>
<path d="M306.77 592.32H310.47L308.62 588.92Z"/>
<path d="M307.24 690.22H310.94L309.09 686.82Z"/>
<path d="M334.25 415.62L336.75 413.12L339.25 415.62L336.75 418.12Z"/>
<path d="M334.25 433.12L336.75 430.62L339.25 433.12L336.75 435.62Z"/>
<path d="M334.25 448.38L336.75 445.88L339.25 448.38L336.75 450.88Z"/>
<path d="M330.50 459.75L333.0 457.25L335.50 459.75L333.0 462.25Z"/>
<path d="M338.00 463.75L340.5 461.25L343.00 463.75L340.5 466.25Z"/>
<path d="M338.00 481.0L340.5 478.50L343.00 481.0L340.5 483.50Z"/>
<path d="M330.50 483.75L333.0 481.25L335.50 483.75L333.0 486.25Z"/>
<path d="M330.50 497.5L333.0 495.00L335.50 497.5L333.0 500.00Z"/>
<path d="M338.00 501.88L340.5 499.38L343.00 501.88L340.5 504.38Z"/>
<path d="M328.62 511.5L331.12 509.00L333.62 511.5L331.12 514.00Z"/>
<path d="M339.88 512.75L342.38 510.25L344.88 512.75L342.38 515.25Z"/>
<path d="M334.25 514.38L336.75 511.88L339.25 514.38L336.75 516.88Z"/>
<path d="M330.75 519.0L333.25 516.50L335.75 519.0L333.25 521.50Z"/>
<path d="M338.00 519.75L340.5 517.25L343.00 519.75L340.5 522.25Z"/>
<path d="M336.12 524.75L338.62 522.25L341.12 524.75L338.62 527.25Z"/>
<path d="M338.00 532.12L340.5 529.62L343.00 532.12L340.5 534.62Z"/>
<path d="M330.50 538.75L333.0 536.25L335.50 538.75L333.0 541.25Z"/>
<path d="M339.88 543.5L342.38 541.00L344.88 543.5L342.38 546.00Z"/>
<path d="M328.62 548.12L331.12 545.62L333.62 548.12L331.12 550.62Z"/>
<path d="M334.25 548.12L336.75 545.62L339.25 548.12L336.75 550.62Z"/>
<path d="M330.50 557.5L333.0 555.00L335.50 557.5L333.0 560.00Z"/>
<path d="M338.00 557.25L340.5 554.75L343.00 557.25L340.5 559.75Z"/>
<path d="M328.62 562.5L331.12 560.00L333.62 562.5L331.12 565.00Z"/>
<path d="M339.88 562.25L342.38 559.75L344.88 562.25L342.38 564.75Z"/>
<path d="M330.50 564.38L333.0 561.88L335.50 564.38L333.0 566.88Z"/>
<path d="M337.38 564.38L339.88 561.88L342.38 564.38L339.88 566.88Z"/>
<path d="M334.25 566.88L336.75 564.38L339.25 566.88L336.75 569.38Z"/>
<path d="M338.00 570.25L340.5 567.75L343.00 570.25L340.5 572.75Z"/>
<path d="M330.50 576.25L333.0 573.75L335.50 576.25L333.0 578.75Z"/>
<path d="M337.00 576.25L339.5 573.75L342.00 576.25L339.5 578.75Z"/>
<path d="M332.38 578.12L334.88 575.62L337.38 578.12L334.88 580.62Z"/>
<path d="M334.25 591.0L336.75 588.50L339.25 591.0L336.75 593.50Z"/>
<path d="M334.25 561.25L336.75 558.75L339.25 561.25L336.75 563.75Z"/>
<path d="M333.00 568.75L335.5 566.25L338.00 568.75L335.5 571.25Z"/>
<path d="M334.13 693.78L336.63 691.28L339.13 693.78L336.63 696.28Z"/>
<path d="M390.75 512.03H394.45L392.60 515.43Z"/>
<path d="M387.04 536.59H390.74L388.89 539.99Z"/>
<path d="M393.98 536.26H397.68L395.83 539.66Z"/>
<path d="M384.94 550.80H388.64L386.79 554.20Z"/>
<path d="M396.24 550.32H399.94L398.09 553.72Z"/>
<path d="M390.75 554.84H394.45L392.60 558.24Z"/>
<path d="M384.94 558.07H388.64L386.79 561.47Z"/>
<path d="M387.84 560.50H391.54L389.69 563.90Z"/>
<path d="M396.24 560.50H399.94L398.09 563.90Z"/>
<path d="M390.75 563.73H394.45L392.60 567.13Z"/>
<path d="M393.50 562.11H397.20L395.35 565.51Z"/>
<path d="M385.42 569.38H389.12L387.27 572.78Z"/>
<path d="M395.92 567.77H399.62L397.77 571.17Z"/>
<path d="M387.84 571.81H391.54L389.69 575.21Z"/>
<path d="M393.50 572.29H397.20L395.35 575.69Z"/>
<path d="M390.75 573.91H394.45L392.60 577.31Z"/>
<path d="M387.84 578.27H391.54L389.69 581.67Z"/>
<path d="M393.50 578.27H397.20L395.35 581.67Z"/>
<path d="M389.46 580.69H393.16L391.31 584.09Z"/>
<path d="M392.37 581.01H396.07L394.22 584.41Z"/>
<path d="M390.75 583.11H394.45L392.60 586.51Z"/>
<path d="M387.04 590.06H390.74L388.89 593.46Z"/>
<path d="M393.98 590.38H397.68L395.83 593.78Z"/>
<path d="M393.98 596.52H397.68L395.83 599.92Z"/>
<path d="M387.04 598.78H390.74L388.89 602.18Z"/>
<path d="M387.04 608.15H390.74L388.89 611.55Z"/>
<path d="M393.98 609.77H397.68L395.83 613.17Z"/>
<path d="M393.98 612.19H397.68L395.83 615.59Z"/>
<path d="M387.04 618.17H390.74L388.89 621.57Z"/>
<path d="M390.75 576.65H394.45L392.60 580.05Z"/>
<path d="M384.61 576.65H388.31L386.46 580.05Z"/>
<path d="M396.73 576.65H400.43L398.58 580.05Z"/>
<path d="M387.04 632.71H390.74L388.89 636.11Z"/>
<path d="M393.98 637.40H397.68L395.83 640.80Z"/>
<path d="M387.04 670.19H390.74L388.89 673.59Z"/>
<path d="M393.98 669.38H397.68L395.83 672.78Z"/>
<rect x="414.74" y="549.13" width="3.7" height="3.7"/>
<rect x="412.50" y="551.75" width="3.7" height="3.7"/>
<rect x="421.84" y="550.25" width="3.7" height="3.7"/>
<rect x="424.83" y="553.62" width="3.7" height="3.7"/>
<rect x="415.49" y="555.49" width="3.7" height="3.7"/>
<rect x="422.22" y="555.49" width="3.7" height="3.7"/>
<rect x="418.48" y="557.73" width="3.7" height="3.7"/>
<rect x="412.50" y="563.34" width="3.7" height="3.7"/>
<rect x="424.46" y="562.59" width="3.7" height="3.7"/>
<rect x="418.48" y="565.58" width="3.7" height="3.7"/>
<rect x="412.50" y="567.08" width="3.7" height="3.7"/>
<rect x="424.46" y="567.08" width="3.7" height="3.7"/>
<rect x="412.87" y="569.69" width="3.7" height="3.7"/>
<rect x="424.46" y="569.69" width="3.7" height="3.7"/>
<rect x="418.10" y="573.06" width="3.7" height="3.7"/>
<rect x="423.34" y="574.93" width="3.7" height="3.7"/>
<rect x="424.83" y="576.42" width="3.7" height="3.7"/>
<rect x="412.50" y="577.92" width="3.7" height="3.7"/>
<rect x="421.47" y="577.54" width="3.7" height="3.7"/>
<rect x="415.49" y="579.79" width="3.7" height="3.7"/>
<rect x="418.85" y="582.78" width="3.7" height="3.7"/>
<rect x="414.74" y="587.26" width="3.7" height="3.7"/>
<rect x="421.84" y="586.51" width="3.7" height="3.7"/>
<rect x="420.72" y="589.51" width="3.7" height="3.7"/>
<rect x="416.23" y="592.87" width="3.7" height="3.7"/>
<rect x="424.08" y="595.86" width="3.7" height="3.7"/>
<rect x="412.87" y="598.48" width="3.7" height="3.7"/>
<rect x="418.10" y="600.72" width="3.7" height="3.7"/>
<rect x="418.54" y="516.73" width="3.7" height="3.7"/>
<rect x="418.54" y="537.73" width="3.7" height="3.7"/>
<rect x="418.54" y="637.73" width="3.7" height="3.7"/>
<rect x="418.55" y="466.65" width="3.7" height="3.7"/>
<circle cx="448.34" cy="503.55" r="2.0"/>
<circle cx="448.34" cy="522.94" r="2.0"/>
<circle cx="448.34" cy="537.96" r="2.0"/>
<circle cx="444.62" cy="547.33" r="2.0"/>
<circle cx="451.89" cy="546.53" r="2.0"/>
<circle cx="453.99" cy="554.93" r="2.0"/>
<circle cx="442.68" cy="556.54" r="2.0"/>
<circle cx="448.34" cy="557.35" r="2.0"/>
<circle cx="442.68" cy="561.39" r="2.0"/>
<circle cx="444.62" cy="563.81" r="2.0"/>
<circle cx="453.99" cy="564.3" r="2.0"/>
<circle cx="447.04" cy="565.91" r="2.0"/>
<circle cx="451.08" cy="565.43" r="2.0"/>
<circle cx="443.81" cy="570.27" r="2.0"/>
<circle cx="453.99" cy="569.47" r="2.0"/>
<circle cx="451.89" cy="571.41" r="2.0"/>
<circle cx="446.24" cy="572.7" r="2.0"/>
<circle cx="443.81" cy="579.16" r="2.0"/>
<circle cx="453.99" cy="582.39" r="2.0"/>
<circle cx="448.34" cy="584.01" r="2.0"/>
<circle cx="444.62" cy="587.24" r="2.0"/>
<circle cx="451.89" cy="588.05" r="2.0"/>
<circle cx="446.24" cy="589.66" r="2.0"/>
<circle cx="453.99" cy="588.85" r="2.0"/>
<circle cx="449.47" cy="592.08" r="2.0"/>
<circle cx="443.0" cy="593.38" r="2.0"/>
<circle cx="453.99" cy="596.12" r="2.0"/>
<circle cx="448.34" cy="599.35" r="2.0"/>
<circle cx="444.62" cy="605.33" r="2.0"/>
<circle cx="451.89" cy="610.18" r="2.0"/>
<circle cx="448.34" cy="621.49" r="2.0"/>
<circle cx="448.34" cy="575.93" r="2.0"/>
<circle cx="442.68" cy="575.93" r="2.0"/>
<circle cx="453.99" cy="575.93" r="2.0"/>
<circle cx="448.34" cy="631.02" r="2.0"/>
<circle cx="448.34" cy="672.37" r="2.0"/>
<circle cx="448.85" cy="458.38" r="2.0"/>
<path d="M474.40 497.32H478.10L476.25 493.92Z"/>
<path d="M474.40 510.20H478.10L476.25 506.80Z"/>
<path d="M478.15 526.95H481.85L480.00 523.55Z"/>
<path d="M470.90 534.20H474.60L472.75 530.80Z"/>
<path d="M474.40 549.20H478.10L476.25 545.80Z"/>
<path d="M478.15 554.20H481.85L480.00 550.80Z"/>
<path d="M470.90 556.70H474.60L472.75 553.30Z"/>
<path d="M476.27 557.32H479.97L478.12 553.92Z"/>
<path d="M471.90 560.45H475.60L473.75 557.05Z"/>
<path d="M470.65 564.20H474.35L472.50 560.80Z"/>
<path d="M478.15 564.20H481.85L480.00 560.80Z"/>
<path d="M472.53 566.70H476.23L474.38 563.30Z"/>
<path d="M476.27 567.95H479.97L478.12 564.55Z"/>
<path d="M468.77 569.82H472.47L470.62 566.42Z"/>
<path d="M480.03 569.82H483.73L481.88 566.42Z"/>
<path d="M472.53 569.82H476.23L474.38 566.42Z"/>
<path d="M470.90 578.58H474.60L472.75 575.18Z"/>
<path d="M478.15 578.95H481.85L480.00 575.55Z"/>
<path d="M474.40 576.08H478.10L476.25 572.68Z"/>
<path d="M474.40 573.58H478.10L476.25 570.18Z"/>
<path d="M468.15 574.20H471.85L470.00 570.80Z"/>
<path d="M480.65 574.20H484.35L482.50 570.80Z"/>
<path d="M472.53 581.45H476.23L474.38 578.05Z"/>
<path d="M475.65 583.58H479.35L477.50 580.18Z"/>
<path d="M468.77 592.32H472.47L470.62 588.92Z"/>
<path d="M471.27 595.45H474.97L473.12 592.05Z"/>
<path d="M473.77 596.45H477.47L475.62 593.05Z"/>
<path d="M476.27 596.08H479.97L478.12 592.68Z"/>
<path d="M480.03 594.82H483.73L481.88 591.42Z"/>
<path d="M478.15 595.70H481.85L480.00 592.30Z"/>
<path d="M474.40 607.32H478.10L476.25 603.92Z"/>
<path d="M474.40 617.70H478.10L476.25 614.30Z"/>
<path d="M470.90 626.45H474.60L472.75 623.05Z"/>
<path d="M478.15 628.58H481.85L480.00 625.18Z"/>
<path d="M474.40 636.95H478.10L476.25 633.55Z"/>
<path d="M474.40 648.95H478.10L476.25 645.55Z"/>
<path d="M474.50 670.35H478.20L476.35 666.95Z"/>
<path d="M501.62 481.5L504.12 479.00L506.62 481.5L504.12 484.00Z"/>
<path d="M501.62 498.75L504.12 496.25L506.62 498.75L504.12 501.25Z"/>
<path d="M498.12 509.62L500.62 507.12L503.12 509.62L500.62 512.12Z"/>
<path d="M505.25 515.25L507.75 512.75L510.25 515.25L507.75 517.75Z"/>
<path d="M498.12 524.38L500.62 521.88L503.12 524.38L500.62 526.88Z"/>
<path d="M505.25 524.0L507.75 521.50L510.25 524.0L507.75 526.50Z"/>
<path d="M498.12 530.62L500.62 528.12L503.12 530.62L500.62 533.12Z"/>
<path d="M505.25 532.25L507.75 529.75L510.25 532.25L507.75 534.75Z"/>
<path d="M498.12 542.5L500.62 540.00L503.12 542.5L500.62 545.00Z"/>
<path d="M505.62 542.5L508.12 540.00L510.62 542.5L508.12 545.00Z"/>
<path d="M496.25 545.0L498.75 542.50L501.25 545.0L498.75 547.50Z"/>
<path d="M507.50 545.0L510.0 542.50L512.50 545.0L510.0 547.50Z"/>
<path d="M501.88 545.62L504.38 543.12L506.88 545.62L504.38 548.12Z"/>
<path d="M500.62 550.62L503.12 548.12L505.62 550.62L503.12 553.12Z"/>
<path d="M507.25 554.38L509.75 551.88L512.25 554.38L509.75 556.88Z"/>
<path d="M496.25 557.5L498.75 555.00L501.25 557.5L498.75 560.00Z"/>
<path d="M501.88 559.0L504.38 556.50L506.88 559.0L504.38 561.50Z"/>
<path d="M505.62 561.25L508.12 558.75L510.62 561.25L508.12 563.75Z"/>
<path d="M498.12 563.12L500.62 560.62L503.12 563.12L500.62 565.62Z"/>
<path d="M506.25 565.0L508.75 562.50L511.25 565.0L508.75 567.50Z"/>
<path d="M501.88 566.25L504.38 563.75L506.88 566.25L504.38 568.75Z"/>
<path d="M496.25 567.5L498.75 565.00L501.25 567.5L498.75 570.00Z"/>
<path d="M500.00 569.0L502.5 566.50L505.00 569.0L502.5 571.50Z"/>
<path d="M503.75 568.75L506.25 566.25L508.75 568.75L506.25 571.25Z"/>
<path d="M496.25 578.12L498.75 575.62L501.25 578.12L498.75 580.62Z"/>
<path d="M507.50 578.12L510.0 575.62L512.50 578.12L510.0 580.62Z"/>
<path d="M501.88 548.5L504.38 546.00L506.88 548.5L504.38 551.00Z"/>
<path d="M505.00 580.25L507.5 577.75L510.00 580.25L507.5 582.75Z"/>
<path d="M498.75 584.38L501.25 581.88L503.75 584.38L501.25 586.88Z"/>
<path d="M501.88 586.25L504.38 583.75L506.88 586.25L504.38 588.75Z"/>
<path d="M505.62 588.12L508.12 585.62L510.62 588.12L508.12 590.62Z"/>
<path d="M498.12 595.0L500.62 592.50L503.12 595.0L500.62 597.50Z"/>
<path d="M501.62 622.25L504.12 619.75L506.62 622.25L504.12 624.75Z"/>
<path d="M501.62 662.25L504.12 659.75L506.62 662.25L504.12 664.75Z"/>
<path d="M501.75 412.28L504.25 409.78L506.75 412.28L504.25 414.78Z"/>
</g>
<g stroke="#000" stroke-width="2" fill="none">
<path d="M47.40 588.50h20"/>
<path d="M75.50 573.00h20"/>
<path d="M103.50 580.30h20"/>
<path d="M131.30 592.20h20"/>
<path d="M159.20 562.10h20"/>
<path d="M215.00 590.80h20"/>
<path d="M242.80 576.20h20"/>
<path d="M270.80 583.50h20"/>
<path d="M298.70 591.10h20"/>
<path d="M326.80 538.70h20"/>
<path d="M382.70 578.40h20"/>
<path d="M410.40 573.80h20"/>
<path d="M438.40 575.90h20"/>
<path d="M466.30 572.50h20"/>
<path d="M494.20 550.00h20"/>
</g>
<text transform="translate(-0.15 421.10) scale(1.07 1)" font-size="15.8" font-weight="bold" stroke="#000" stroke-width="0.3">B</text>
<text x="276.5" y="421.50" font-size="13.8" font-weight="bold" text-anchor="middle" stroke="#000" stroke-width="0.2">10 µmol/L</text>
<text transform="translate(15.9 570.15) rotate(-90)" stroke="#000" stroke-width="0.2" font-size="11.5" font-weight="bold" font-style="italic" text-anchor="middle">relative expression</text>
<g font-size="9" font-weight="bold" text-anchor="end" stroke="#000" stroke-width="0.4">
<g transform="translate(57.40 742.00) rotate(-45)"><text x="0" y="0">HER2/neu</text><text x="0" y="10.8" font-size="8.7" word-spacing="-0.3">[n = 37]</text></g>
<g transform="translate(85.50 742.00) rotate(-45)"><text x="0" y="0">MUC1</text><text x="0" y="10.8" font-size="8.7" word-spacing="-0.3">[n = 37]</text></g>
<g transform="translate(113.50 742.00) rotate(-45)"><text x="0" y="0">PRAME</text><text x="0" y="10.8" font-size="8.7" word-spacing="-0.3">[n = 37]</text></g>
<g transform="translate(141.30 742.00) rotate(-45)"><text x="0" y="0">WT1</text><text x="0" y="10.8" font-size="8.7" word-spacing="-0.3">[n = 38]</text></g>
<g transform="translate(169.20 742.00) rotate(-45)"><text x="0" y="0">CMV</text><text x="0" y="10.8" font-size="8.7" word-spacing="-0.3">[n = 37]</text></g>
<g transform="translate(225.00 742.00) rotate(-45)"><text x="0" y="0">HER2/neu</text><text x="0" y="10.8" font-size="8.7" word-spacing="-0.3">[n = 36]</text></g>
<g transform="translate(252.80 742.00) rotate(-45)"><text x="0" y="0">MUC1</text><text x="0" y="10.8" font-size="8.7" word-spacing="-0.3">[n = 36]</text></g>
<g transform="translate(280.80 742.00) rotate(-45)"><text x="0" y="0">PRAME</text><text x="0" y="10.8" font-size="8.7" word-spacing="-0.3">[n = 36]</text></g>
<g transform="translate(308.70 742.00) rotate(-45)"><text x="0" y="0">WT1</text><text x="0" y="10.8" font-size="8.7" word-spacing="-0.3">[n = 36]</text></g>
<g transform="translate(336.80 742.00) rotate(-45)"><text x="0" y="0">CMV</text><text x="0" y="10.8" font-size="8.7" word-spacing="-0.3">[n = 37]</text></g>
<g transform="translate(392.70 742.00) rotate(-45)"><text x="0" y="0">HER2/neu</text><text x="0" y="10.8" font-size="8.7" word-spacing="-0.3">[n = 37]</text></g>
<g transform="translate(420.40 742.00) rotate(-45)"><text x="0" y="0">MUC1</text><text x="0" y="10.8" font-size="8.7" word-spacing="-0.3">[n = 37]</text></g>
<g transform="translate(448.40 742.00) rotate(-45)"><text x="0" y="0">PRAME</text><text x="0" y="10.8" font-size="8.7" word-spacing="-0.3">[n = 38]</text></g>
<g transform="translate(476.30 742.00) rotate(-45)"><text x="0" y="0">WT1</text><text x="0" y="10.8" font-size="8.7" word-spacing="-0.3">[n = 38]</text></g>
<g transform="translate(504.20 742.00) rotate(-45)"><text x="0" y="0">CMV</text><text x="0" y="10.8" font-size="8.7" word-spacing="-0.3">[n = 37]</text></g>
</g>
<g stroke="#626262" stroke-width="1.7" fill="none">
<path d="M48.8 779.00v8M175.2 779.00v8M48.8 783.00H175.2"/>
<path d="M217.8 779.00v8M344.2 779.00v8M217.8 783.00H344.2"/>
<path d="M386 779.00v8M512.7 779.00v8M386 783.00H512.7"/>
</g>
<g font-size="9.1" font-weight="bold" text-anchor="middle" stroke="#000" stroke-width="0.25">
<text x="112.00" y="800.30">Nulligravidous women</text>
<text x="281.00" y="800.30">Primi-/multiparous women</text>
<text x="449.35" y="800.30">Men</text>
</g>
</svg>
</body></html>
